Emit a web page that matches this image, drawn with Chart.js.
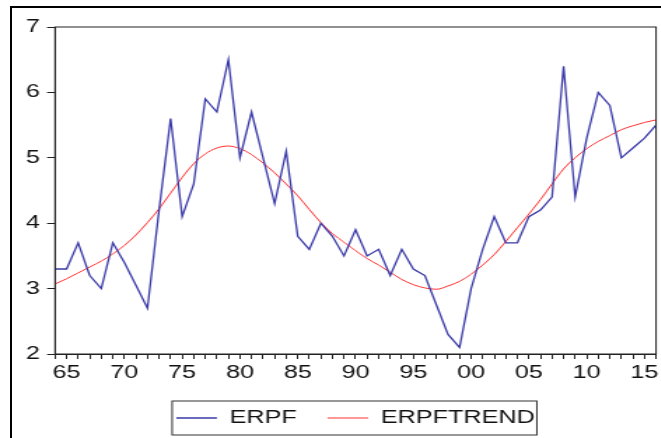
<!DOCTYPE html>
<html lang="en">
<head>
    <meta charset="UTF-8">
    <title>ERPF and ERPFTREND</title>
    <script src="https://cdn.jsdelivr.net/npm/chart.js@4.4.0/dist/chart.umd.min.js"></script>
    <style>
        html, body { margin: 0; padding: 0; background: #fff; overflow: hidden; }
        body { width: 661px; height: 438px; position: relative; }
        #frame { position: absolute; left: 10px; top: 6px; width: 720px; height: 520px;
                 border-top: 2px solid #000; border-left: 2px solid #000; }
        /* the original graph is stretched sideways, so draw narrow and scale */
        #wrap { position: absolute; left: 0; top: 0; width: 472px; height: 438px;
                transform: scaleX(1.4); transform-origin: 0 0; }
    </style>
</head>
<body>
    <div id="frame"></div>
    <div id="wrap"><canvas id="chart" width="472" height="438"></canvas></div>

    <script>
        // Data
        const years = [1964, 1965, 1966, 1967, 1968, 1969, 1970, 1971, 1972, 1973,
                       1974, 1975, 1976, 1977, 1978, 1979, 1980, 1981, 1982, 1983,
                       1984, 1985, 1986, 1987, 1988, 1989, 1990, 1991, 1992, 1993,
                       1994, 1995, 1996, 1997, 1998, 1999, 2000, 2001, 2002, 2003,
                       2004, 2005, 2006, 2007, 2008, 2009, 2010, 2011, 2012, 2013,
                       2014, 2015, 2016];
        const erpf = [3.3, 3.3, 3.7, 3.2, 3.0, 3.7, 3.4, 3.05, 2.7, 4.2,
                      5.6, 4.1, 4.6, 5.9, 5.7, 6.5, 5.0, 5.7, 5.0, 4.3,
                      5.1, 3.8, 3.6, 4.0, 3.8, 3.5, 3.9, 3.5, 3.6, 3.2,
                      3.6, 3.3, 3.2, 2.75, 2.3, 2.1, 3.0, 3.6, 4.1, 3.7,
                      3.7, 4.1, 4.2, 4.4, 6.4, 4.4, 5.3, 6.0, 5.8, 5.0,
                      5.15, 5.3, 5.5];
        const erpfTrend = [3.07, 3.15, 3.24, 3.33, 3.42, 3.53, 3.66, 3.82, 4.01, 4.22,
                           4.46, 4.70, 4.91, 5.06, 5.15, 5.18, 5.14, 5.05, 4.92, 4.77,
                           4.60, 4.42, 4.21, 4.01, 3.84, 3.71, 3.58, 3.46, 3.36, 3.25,
                           3.14, 3.06, 3.01, 2.99, 3.04, 3.11, 3.22, 3.36, 3.52, 3.72,
                           3.93, 4.14, 4.36, 4.60, 4.83, 5.00, 5.14, 5.25, 5.34, 5.43,
                           5.49, 5.54, 5.58];
        const tickYears = [1965, 1970, 1975, 1980, 1985, 1990, 1995, 2000, 2005, 2010, 2015];
        const tickLabels = ['65', '70', '75', '80', '85', '90', '95', '00', '05', '10', '15'];

        Chart.defaults.font.family = "'Liberation Sans', Arial, sans-serif";
        Chart.defaults.font.size = 18;
        Chart.defaults.color = '#111';

        // plot box and legend frame
        const boxes = {
            id: 'boxes',
            afterDraw(chart) {
                const ctx = chart.ctx;
                const a = chart.chartArea;
                ctx.save();
                ctx.strokeStyle = '#222';
                ctx.lineWidth = 1;
                ctx.strokeRect(a.left, a.top, a.right - a.left, a.bottom - a.top);
                const hb = chart.legend.legendHitBoxes;
                if (hb && hb.length) {
                    const first = hb[0];
                    const last = hb[hb.length - 1];
                    const l = first.left - 3;
                    const r = last.left + last.width + 1.5;
                    const t = first.top - 8;
                    const b = first.top + first.height + 8;
                    ctx.strokeStyle = '#333';
                    ctx.strokeRect(l, t, r - l, b - t);
                }
                ctx.restore();
            }
        };

        const ctx = document.getElementById('chart').getContext('2d');
        const chart = new Chart(ctx, {
            type: 'line',
            data: {
                datasets: [{
                    label: 'ERPF',
                    data: years.map((y, i) => ({ x: y, y: erpf[i] })),
                    borderColor: '#3a3aa8',
                    backgroundColor: '#3a3aa8',
                    borderWidth: 1.3,
                    pointRadius: 0,
                    tension: 0
                }, {
                    label: 'ERPFTREND',
                    data: years.map((y, i) => ({ x: y, y: erpfTrend[i] })),
                    borderColor: '#ff3030',
                    backgroundColor: '#ff3030',
                    borderWidth: 1,
                    pointRadius: 0,
                    cubicInterpolationMode: 'monotone'
                }]
            },
            options: {
                responsive: false,
                animation: false,
                devicePixelRatio: 1,
                layout: { padding: { top: 27, right: 3.4, bottom: 1, left: 0 } },
                plugins: {
                    legend: {
                        position: 'bottom',
                        fullSize: false,
                        labels: {
                            usePointStyle: true,
                            pointStyle: 'line',
                            pointStyleWidth: 29,
                            padding: 22,
                            color: '#111'
                        }
                    },
                    tooltip: { enabled: false }
                },
                scales: {
                    x: {
                        type: 'linear',
                        min: 1964,
                        max: 2016,
                        border: { color: '#222', width: 1 },
                        grid: { drawOnChartArea: false, tickLength: 5, tickColor: '#222' },
                        ticks: {
                            stepSize: 1,
                            autoSkip: false,
                            maxRotation: 0,
                            padding: 3,
                            callback: (v) => {
                                const i = tickYears.indexOf(v);
                                return i < 0 ? '' : tickLabels[i];
                            }
                        },
                        afterFit: (s) => { s.height = 33; }
                    },
                    y: {
                        min: 2,
                        max: 7,
                        border: { color: '#222', width: 1 },
                        grid: { drawOnChartArea: false, tickLength: 5.7, tickColor: '#222' },
                        ticks: { stepSize: 1, padding: 5 },
                        afterFit: (s) => { s.width = 39.3; }
                    }
                }
            },
            plugins: [boxes]
        });
    </script>
</body>
</html>
